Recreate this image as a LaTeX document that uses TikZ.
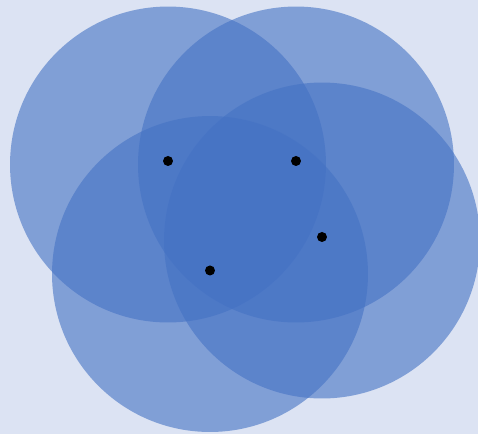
\documentclass[tikz,border=0pt]{standalone}
\usepackage{tikz}
\usetikzlibrary{positioning}
\definecolor{bgblue}{HTML}{DCE3F3}
\definecolor{discblue}{HTML}{4472C4}

\begin{document}
\begin{tikzpicture}[x=0.02cm, y=-0.02cm]
                % background, also fixes the size of the picture
                \fill[bgblue] (0,0) rectangle (478,434);
                \useasboundingbox (0,0) rectangle (478,434);
                \clip (0,0) rectangle (478,434);

                \foreach \n/\x/\y in {1/168/164.5, 2/296/164.5, 3/322/240.5, 4/210/274}{
                  % make a new node for the big see-through disc
                  \node[ circle, % circular shape
                         fill = discblue, % the blue of the discs
                         fill opacity = 0.6, % so that the overlaps get darker
                         minimum size = 6.32cm, % set the size
                         inner sep = 0pt,
                         ] at (\x,\y) (c\n) {};
                }
                % small black dots, drawn last so no disc covers them
                \foreach \n in {1,2,3,4}{
                  \node[ circle,
                         fill = black,
                         minimum size = 2mm,
                         inner sep = 0pt,
                         above = 2pt of c\n.center, anchor = center,
                         ] (d\n) {};
                }
            \end{tikzpicture}
\end{document}
